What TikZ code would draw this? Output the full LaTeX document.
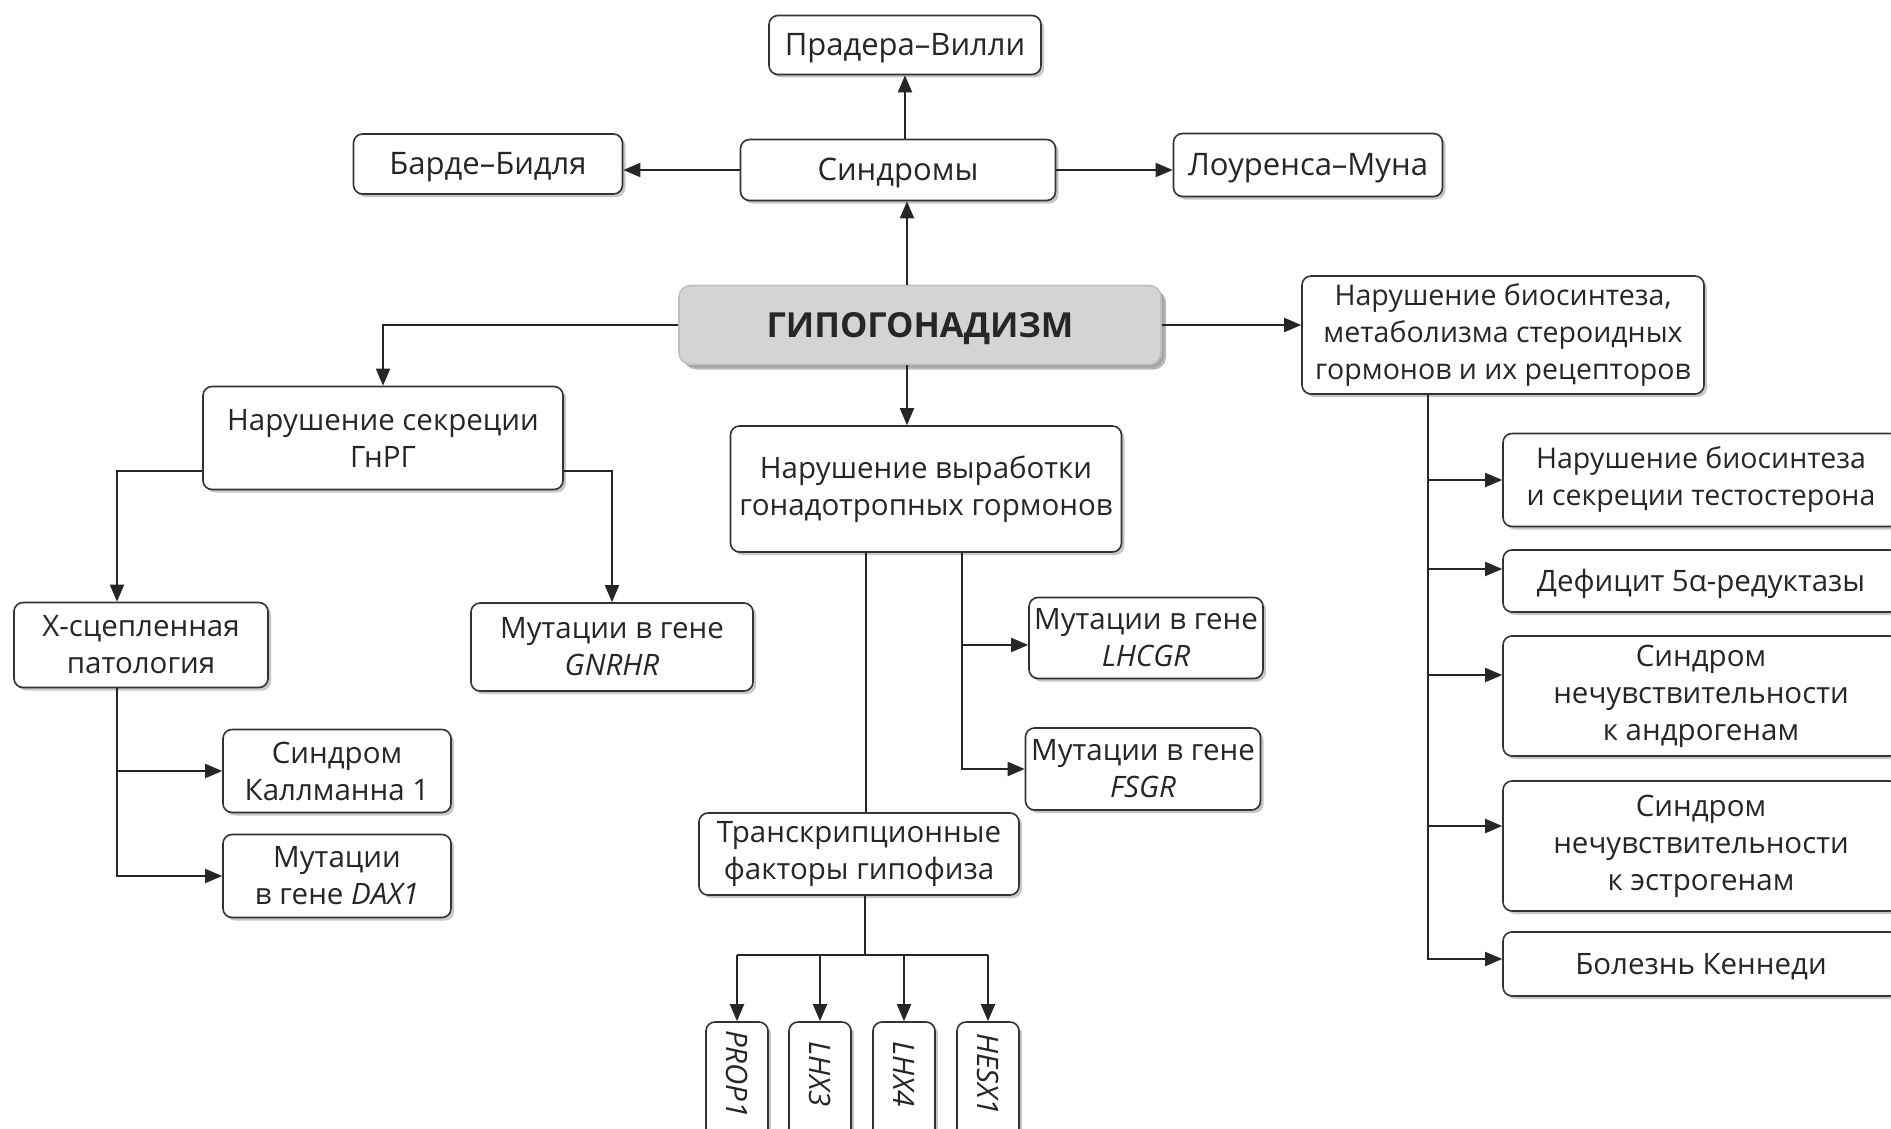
\documentclass[tikz,border=0pt]{standalone}
\usepackage{fontspec}
\setmainfont{Open Sans}
\usetikzlibrary{arrows.meta,shadows}

\begin{document}
\begin{tikzpicture}[x=1pt,y=-1pt,
  box/.style={draw=black!80, line width=1.6pt, rounded corners=9pt, fill=white,
    align=center, inner sep=0pt, text=black!85,
    font=\fontsize{29.5}{37}\selectfont,
    drop shadow={shadow xshift=3pt, shadow yshift=-3pt, fill=black!40, opacity=0.55}},
  oneline/.style={text height=28pt, text depth=7pt},
  smallbox/.style={box, font=\fontsize{28.5}{37}\selectfont},
  topbox/.style={box, oneline, font=\fontsize{31}{37}\selectfont},
  mainbox/.style={box, fill=black!17, draw=black!25, rounded corners=12pt,
    font=\fontsize{34.5}{40}\selectfont\bfseries,
    drop shadow={shadow xshift=5pt, shadow yshift=-5pt, fill=black!45, opacity=0.6}},
  genebox/.style={box, minimum width=62, minimum height=140},
  arr/.style={-{Triangle[length=17pt,width=14pt]}, line width=1.9pt, draw=black!85},
  ln/.style={line width=1.9pt, draw=black!85}]

\useasboundingbox[fill=white] (0,0) rectangle (1891,1129);

% top: syndromes
\node[topbox, minimum width=272, minimum height=59] (prader) at (905,45) {Прадера–Вилли};
\node[topbox, minimum width=315, minimum height=61] (sind) at (898,170) {Синдромы};
\node[topbox, minimum width=269, minimum height=60] (barde) at (488,164) {Барде–Бидля};
\node[topbox, minimum width=269, minimum height=63] (lour) at (1308,165) {Лоуренса–Муна};

% centre
\node[mainbox, minimum width=482, minimum height=79, text height=25pt, text depth=0pt]
  (hypo) at (920,325) {ГИПОГОНАДИЗМ};

% first level
\node[smallbox, minimum width=402, minimum height=118] (steroid) at (1503,335)
  {Нарушение биосинтеза,\\метаболизма стероидных\\гормонов и их рецепторов};
\node[box, minimum width=360, minimum height=103] (gnrg) at (383,438)
  {Нарушение секреции\\ГнРГ};
\node[box, minimum width=391, minimum height=126] (gonad) at (926,489)
  {Нарушение выработки\\гонадотропных гормонов};

% GnRH branch
\node[box, minimum width=254, minimum height=85] (xlink) at (141,645) {X-сцепленная\\патология};
\node[box, minimum width=282, minimum height=88] (gnrhr) at (612,647) {Мутации в гене\\{\itshape GNRHR}};
\node[box, minimum width=228, minimum height=83] (kall) at (337,771) {Синдром\\Каллманна 1};
\node[box, minimum width=228, minimum height=83] (dax) at (337,876) {Мутации\\в гене {\itshape DAX1}};

% gonadotropin branch
\node[box, minimum width=234, minimum height=81] (lhcgr) at (1146,638) {Мутации в гене\\{\itshape LHCGR}};
\node[box, minimum width=235, minimum height=82] (fsgr) at (1143,769) {Мутации в гене\\{\itshape FSGR}};
\node[box, minimum width=320, minimum height=82] (trans) at (859,854) {Транскрипционные\\факторы гипофиза};

% pituitary transcription factor genes (text runs downward, set near the top)
\node[genebox] (prop) at (737,1092) {\rotatebox{-90}{\itshape PROP1\hspace{36pt}}};
\node[genebox] (lhxc) at (820,1092) {\rotatebox{-90}{\itshape LHX3\hspace{36pt}}};
\node[genebox] (lhxd) at (904,1092) {\rotatebox{-90}{\itshape LHX4\hspace{36pt}}};
\node[genebox] (hesx) at (988,1092) {\rotatebox{-90}{\itshape HESX1\hspace{36pt}}};

% steroid branch
\node[smallbox, minimum width=396, minimum height=93] (testo) at (1701,480) {Нарушение биосинтеза\\и секреции тестостерона};
\node[box, oneline, minimum width=396, minimum height=62] (defic) at (1701,581) {Дефицит 5α-редуктазы};
\node[box, minimum width=396, minimum height=120] (andro) at (1701,696) {Синдром\\нечувствительности\\к андрогенам};
\node[box, minimum width=396, minimum height=130] (estro) at (1701,846) {Синдром\\нечувствительности\\к эстрогенам};
\node[box, oneline, minimum width=396, minimum height=64] (kenn) at (1701,964) {Болезнь Кеннеди};

% connectors: syndromes
\draw[arr] ([xshift=-13pt]hypo.north) -- ([xshift=-13pt]hypo.north |- sind.south);
\draw[arr] (prader.south |- sind.north) -- (prader.south);
\draw[arr] (sind.west) -- (sind.west -| barde.east);
\draw[arr] (sind.east) -- (sind.east -| lour.west);

% connectors: first level
\draw[arr] (hypo.west) -| (gnrg.north);
\draw[arr] ([xshift=-13pt]hypo.south) -- ([xshift=-13pt]hypo.south |- gonad.north);
\draw[arr] (hypo.east) -- (hypo.east -| steroid.west);

% connectors: GnRH branch
\draw[arr] ([yshift=-33pt]gnrg.west) -| ([xshift=-24pt]xlink.north);
\draw[arr] ([yshift=-33pt]gnrg.east) -| (gnrhr.north);
\draw[arr] ([xshift=-24pt]xlink.south) |- (kall.west);
\draw[arr] ([xshift=-24pt]xlink.south) |- (dax.west);

% connectors: gonadotropin branch
\draw[ln] ([xshift=-60pt]gonad.south) -- ([xshift=-60pt]gonad.south |- trans.north);
\draw[arr] ([xshift=36pt]gonad.south) |- ([yshift=-7pt]lhcgr.west);
\draw[arr] ([xshift=36pt]gonad.south) |- (fsgr.west);

\coordinate (tbar) at (865,955);
\draw[ln] ([xshift=6pt]trans.south) -- (tbar);
\draw[ln] (prop.north |- tbar) -- (hesx.north |- tbar);
\foreach \g in {prop,lhxc,lhxd,hesx}
  \draw[arr] (\g.north |- tbar) -- (\g.north);

% connectors: steroid branch
\draw[arr] ([xshift=-75pt]steroid.south) |- (testo.west);
\draw[arr] ([xshift=-75pt]steroid.south) |- ([yshift=12pt]defic.west);
\draw[arr] ([xshift=-75pt]steroid.south) |- ([yshift=21pt]andro.west);
\draw[arr] ([xshift=-75pt]steroid.south) |- ([yshift=20pt]estro.west);
\draw[arr] ([xshift=-75pt]steroid.south) |- ([yshift=5pt]kenn.west);
\end{tikzpicture}
\end{document}
